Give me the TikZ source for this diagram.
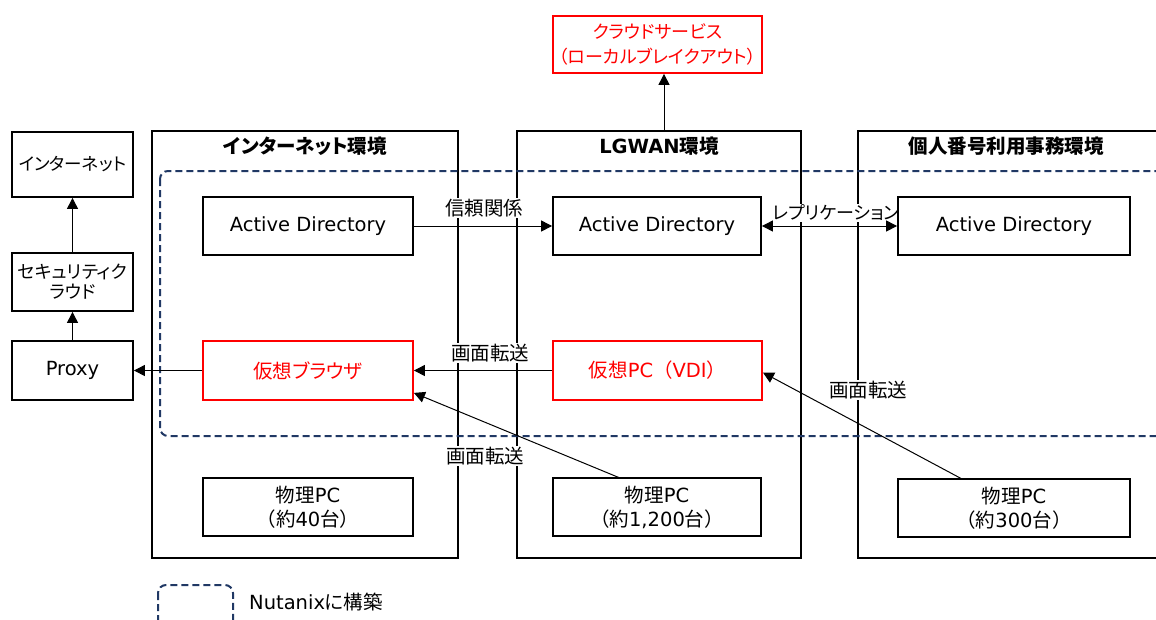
\documentclass[tikz,border=0pt]{standalone}
\usepackage{fontspec}
\setmainfont{DejaVu Sans}
\newfontfamily\jp{Noto Sans CJK JP}[RawFeature=+palt]
\newfontfamily\jpf{Noto Sans CJK JP}
\usetikzlibrary{arrows.meta,calc}
\definecolor{navy}{HTML}{203864}
\definecolor{vred}{HTML}{FF0000}
\begin{document}
\begin{tikzpicture}[x=1pt,y=-1pt,
  font=\fontsize{19.5}{24}\selectfont,
  box/.style={draw, line width=1.8pt, fill=white, minimum height=58pt, align=center, inner sep=2pt},
  redbox/.style={box, draw=vred, text=vred},
  env/.style={draw, line width=2.2pt, minimum height=427pt, inner sep=0pt},
  nut/.style={draw=navy, line width=2pt, dash pattern=on 7pt off 4pt, rounded corners=8pt},
  arr/.style={-{Triangle[length=11pt,width=11pt]}, line width=1pt},
  darr/.style={{Triangle[length=11pt,width=11pt]}-{Triangle[length=11pt,width=11pt]}, line width=1pt},
  lbl/.style={fill=white, inner sep=1pt},
  ttl/.style={font=\fontsize{19.5}{24}\selectfont\bfseries, inner sep=1pt}]
\useasboundingbox (0,0) rectangle (1156,619);
\clip (0,0) rectangle (1156,619);

% environment frames
\node[env, minimum width=306pt] (env1) at (305,344.5) {};
\node[env, minimum width=284pt] (env2) at (659,344.5) {};
\node[env, minimum width=312pt] (env3) at (1014,344.5) {};
\node[ttl] (t1) at (305,146) {\jp インターネット環境};
\node[ttl] (t2) at (659,146) {LGWAN{\jp 環境}};
\node[ttl] (t3) at (1006,146) {\jp 個人番号利用事務環境};

% Nutanix area
\draw[nut] (160,171) rectangle (1164,436);

% labels
\node[lbl] (l1) at (484,208) {\jp 信頼関係};
\node[lbl, font=\fontsize{18}{22}\selectfont] (l2) at (836,213) {\jp レプリケーション};
\node[lbl] (l3) at (490,353) {\jp 画面転送};
\node[lbl] (l4) at (485,456) {\jp 画面転送};
\node[lbl] (l5) at (868,390) {\jp 画面転送};

% left column
\node[box, minimum width=121pt, minimum height=65pt, font=\fontsize{17.5}{22}\selectfont] (inet) at (72.5,164.5) {\jp インターネット};
\node[box, minimum width=121pt, minimum height=58pt, font=\fontsize{18}{22}\selectfont] (sec) at (72.5,282) {\jp セキュリティク\\[-2pt]\jp ラウド};
\node[box, minimum width=121pt, minimum height=59pt] (proxy) at (72.5,370.5) {Proxy};

% cloud
\node[redbox, minimum width=209pt, minimum height=57pt, font=\fontsize{18}{22}\selectfont] (cloud) at (657.5,44.5) {\jp クラウドサービス\\[3pt]\jp （ローカルブレイクアウト）};

% Active Directory
\node[box, minimum width=210pt] (ad1) at (308,226) {Active Directory};
\node[box, minimum width=208pt] (ad2) at (657,226) {Active Directory};
\node[box, minimum width=232pt] (ad3) at (1014,226) {Active Directory};

% virtual
\node[redbox, minimum width=210pt, minimum height=59pt] (vb) at (308,370.5) {\jp 仮想ブラウザ};
\node[redbox, minimum width=209pt, minimum height=59pt] (vpc) at (657.5,370.5) {{\jp 仮想}PC{\jpf （}VDI{\jpf ）}};

% physical PCs
\node[box, minimum width=210pt] (pc1) at (308,507) {{\jp 物理}PC\\{\jpf （約}40{\jpf 台）}};
\node[box, minimum width=208pt] (pc2) at (657,507) {{\jp 物理}PC\\{\jpf （約}1,200{\jpf 台）}};
\node[box, minimum width=232pt] (pc3) at (1014,508) {{\jp 物理}PC\\{\jpf （約}300{\jpf 台）}};

% connectors
\coordinate (lgtop) at (664,131);
\draw[arr] (lgtop) -- (lgtop |- cloud.south);
\draw[arr] (ad1.east) -- (ad2.west);
\draw[darr] (ad2.east) -- (ad3.west);
\draw[arr] (vpc.west) -- (vb.east);
\draw[arr] (vb.west) -- (proxy.east);
\draw[arr] (proxy.north) -- (sec.south);
\draw[arr] (sec.north) -- (inet.south);
\coordinate (p2s) at (620,478);
\draw[arr] (p2s) -- ([yshift=8pt]vb.south east);
\coordinate (p3s) at (962,479);
\draw[arr] (p3s) -- ([yshift=-2pt]vpc.east);

% legend
\draw[nut] (158,585) rectangle (233,650);
\node[inner sep=1pt] (leg) at (316,602) {Nutanix{\jp に構築}};
\end{tikzpicture}
\end{document}
